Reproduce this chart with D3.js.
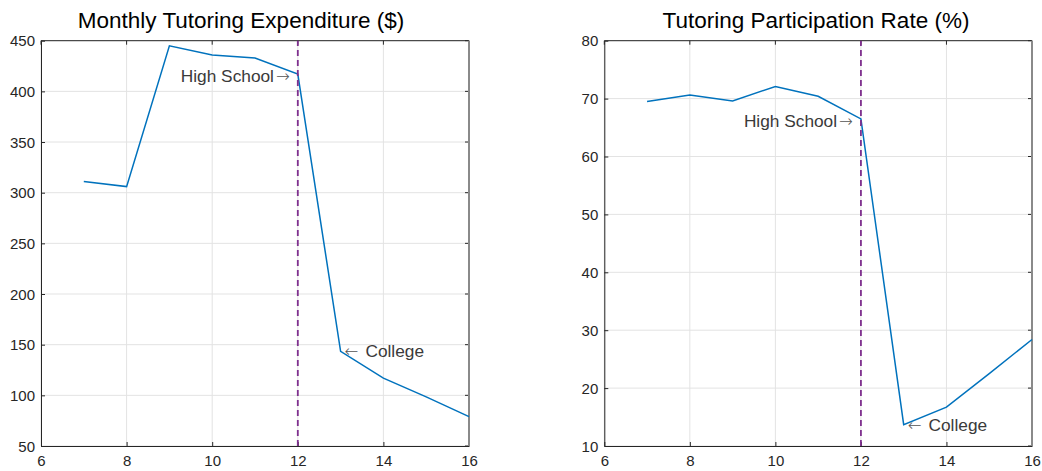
<!DOCTYPE html>
<html>
<head>
<meta charset="utf-8">
<script src="https://cdn.jsdelivr.net/npm/d3@7"></script>
<style>
  body { margin: 0; background: #fff; }
  svg { font-family: "Liberation Sans", Arial, sans-serif; }
</style>
</head>
<body>
<div class="main-container"></div>
<script>
// data
const grades = [7, 8, 9, 10, 11, 12, 13, 14, 15, 16];
const expenditure = [311, 306, 445, 436, 433, 417, 143.5, 117, 98.5, 79];
const participation = [69.5, 70.6, 69.6, 72.1, 70.4, 66.5, 13.7, 16.7, 22.5, 28.4];
const xTicks = [6, 8, 10, 12, 14, 16];
const expTicks = [50, 100, 150, 200, 250, 300, 350, 400, 450];
const partTicks = [10, 20, 30, 40, 50, 60, 70, 80];
const splitGrade = 12;

const width = 1042;
const height = 471;

const svg = d3.select(".main-container")
    .append("svg")
    .attr("width", width)
    .attr("height", height);

const drawPanel = (opts) => {
    const x = d3.scaleLinear().domain([6, 16]).range([opts.left, opts.right]);
    const y = d3.scaleLinear().domain(opts.yDomain).range([446, 40.7]);
    const g = svg.append("g");

    // grid
    g.selectAll(".gx").data(xTicks).enter().append("line")
        .attr("x1", d => x(d)).attr("x2", d => x(d))
        .attr("y1", y.range()[0]).attr("y2", y.range()[1])
        .attr("stroke", "#e3e3e3").attr("stroke-width", 1);
    g.selectAll(".gy").data(opts.yTicks).enter().append("line")
        .attr("x1", x.range()[0]).attr("x2", x.range()[1])
        .attr("y1", d => y(d)).attr("y2", d => y(d))
        .attr("stroke", "#e3e3e3").attr("stroke-width", 1);

    // axes (ticks inside, like matlab)
    const ax = g.append("g")
        .attr("transform", "translate(0," + y.range()[0] + ")")
        .call(d3.axisBottom(x).tickValues(xTicks).tickSizeInner(-4).tickSizeOuter(0).tickPadding(9));
    const ay = g.append("g")
        .attr("transform", "translate(" + x.range()[0] + ",0)")
        .call(d3.axisLeft(y).tickValues(opts.yTicks).tickSizeInner(-4).tickSizeOuter(0).tickPadding(6));
    [ax, ay].forEach(a => {
        a.select(".domain").attr("stroke", "#262626");
        a.selectAll(".tick line").attr("stroke", "#262626");
        a.selectAll("text").attr("fill", "#262626").style("font-size", "15px");
    });
    ay.selectAll("text").attr("dy", "0.35em");

    // top and right box
    g.append("line")
        .attr("x1", x.range()[0]).attr("x2", x.range()[1])
        .attr("y1", y.range()[1]).attr("y2", y.range()[1])
        .attr("stroke", "#262626");
    g.selectAll(".tt").data(xTicks).enter().append("line")
        .attr("x1", d => x(d)).attr("x2", d => x(d))
        .attr("y1", y.range()[1]).attr("y2", y.range()[1] + 4)
        .attr("stroke", "#262626");
    g.selectAll(".rt").data(opts.yTicks).enter().append("line")
        .attr("x1", x.range()[1] - 4).attr("x2", x.range()[1])
        .attr("y1", d => y(d)).attr("y2", d => y(d))
        .attr("stroke", "#262626");
    g.append("line")
        .attr("x1", x.range()[1]).attr("x2", x.range()[1])
        .attr("y1", y.range()[1]).attr("y2", y.range()[0])
        .attr("stroke", "#8a8a8a").attr("stroke-width", 2);

    // data line
    const line = d3.line().x((d, i) => x(grades[i])).y(d => y(d));
    g.append("path")
        .datum(opts.values)
        .attr("d", line)
        .attr("fill", "none")
        .attr("stroke", "#0072BD")
        .attr("stroke-width", 1.5);

    // high school / college divider
    g.append("line")
        .attr("x1", x(splitGrade)).attr("x2", x(splitGrade))
        .attr("y1", y.range()[0]).attr("y2", y.range()[1])
        .attr("stroke", "#7E2F8E")
        .attr("stroke-width", 1.8)
        .attr("stroke-dasharray", "6,4");

    const iHS = grades.indexOf(12);
    const iC = grades.indexOf(13);
    const hs = g.append("text")
        .attr("x", x(12) - 8)
        .attr("y", y(opts.values[iHS]) + 2)
        .attr("dy", "0.35em")
        .attr("text-anchor", "end")
        .attr("fill", "#3a3a3a")
        .style("font-size", "17.3px");
    hs.append("tspan").text("High School");
    hs.append("tspan")
        .attr("dx", 2)
        .style("font-family", "DejaVu Sans")
        .style("font-weight", 200)
        .style("font-size", "16.5px")
        .attr("fill", "#555")
        .text("\u2192");
    const col = g.append("text")
        .attr("x", x(13) + 4)
        .attr("y", y(opts.values[iC]))
        .attr("dy", "0.35em")
        .attr("fill", "#3a3a3a")
        .style("font-size", "17.3px");
    col.append("tspan")
        .style("font-family", "DejaVu Sans")
        .style("font-weight", 200)
        .style("font-size", "16.5px")
        .attr("fill", "#555")
        .text("\u2190");
    col.append("tspan").attr("dx", 7).text("College");

    svg.append("text")
        .attr("x", opts.titleX)
        .attr("y", 28)
        .attr("text-anchor", "middle")
        .attr("fill", "#000")
        .style("font-size", "22.5px")
        .text(opts.title);
};

drawPanel({
    left: 41, right: 469,
    yDomain: [50, 450], yTicks: expTicks,
    values: expenditure,
    title: "Monthly Tutoring Expenditure ($)", titleX: 241
});
drawPanel({
    left: 604.3, right: 1032,
    yDomain: [10, 80], yTicks: partTicks,
    values: participation,
    title: "Tutoring Participation Rate (%)", titleX: 816
});
</script>
</body>
</html>
